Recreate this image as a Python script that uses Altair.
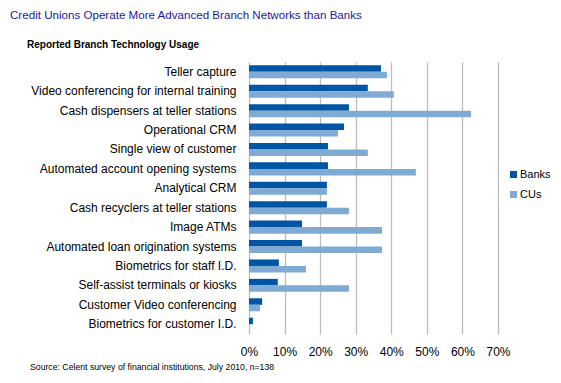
import altair as alt
import pandas as pd

categories = [
    "Teller capture",
    "Video conferencing for internal training",
    "Cash dispensers at teller stations",
    "Operational CRM",
    "Single view of customer",
    "Automated account opening systems",
    "Analytical CRM",
    "Cash recyclers at teller stations",
    "Image ATMs",
    "Automated loan origination systems",
    "Biometrics for staff I.D.",
    "Self-assist terminals or kiosks",
    "Customer Video conferencing",
    "Biometrics for customer I.D.",
]
banks = [0.371, 0.334, 0.281, 0.267, 0.222, 0.222, 0.219, 0.219, 0.149, 0.149, 0.084, 0.081, 0.037, 0.011]
cus = [0.388, 0.407, 0.624, 0.250, 0.334, 0.469, 0.219, 0.281, 0.374, 0.374, 0.160, 0.281, 0.031, 0.0]
series = ["Banks", "CUs"]
series_colors = ["#0055A5", "#7FAAD4"]
x_ticks = [0.0, 0.1, 0.2, 0.3, 0.4, 0.5, 0.6, 0.7]

title_text = "Credit Unions Operate More Advanced Branch Networks than Banks"
subtitle_text = "Reported Branch Technology Usage"
source_text = "Source: Celent survey of financial institutions, July 2010, n=138"

rows = []
for c, b, u in zip(categories, banks, cus):
    rows.append({"category": c, "series": "Banks", "value": b})
    rows.append({"category": c, "series": "CUs", "value": u})
df = pd.DataFrame(rows)

FONT = "Liberation Sans"

bars = alt.Chart(df).mark_bar().encode(
    x=alt.X(
        "value:Q",
        scale=alt.Scale(domain=[0, 0.7], nice=False),
        axis=alt.Axis(
            format=".0%", values=x_ticks, title=None, grid=True,
            gridColor="#BDBDBD", gridWidth=1.3, domain=False, ticks=False,
            labelPadding=12, labelFontSize=12, labelColor="#000000", labelFont=FONT,
            labelOverlap=False, labelFlush=False,
        ),
    ),
    y=alt.Y(
        "category:N", sort=categories,
        scale=alt.Scale(paddingInner=0.33, paddingOuter=0.17),
        axis=alt.Axis(
            title=None, domain=False, ticks=False, labelPadding=13,
            labelFontSize=12, labelColor="#000000", labelFont=FONT,
            labelLimit=0,
        ),
    ),
    yOffset=alt.YOffset("series:N", sort=series),
    color=alt.Color(
        "series:N",
        scale=alt.Scale(domain=series, range=series_colors),
        legend=alt.Legend(
            title=None, orient="none", legendX=259, legendY=107, padding=0,
            symbolType="square", symbolSize=50, symbolStrokeWidth=0,
            labelFontSize=11, labelFont=FONT, labelColor="#000000",
            rowPadding=8, symbolOffset=0, labelOffset=1, labelLimit=0,
        ),
    ),
)

title = alt.Chart(pd.DataFrame([{"t": title_text}])).mark_text(
    align="left", baseline="alphabetic", fontSize=11.6, font=FONT, color="#1A1A9E"
).encode(text="t:N", x=alt.value(-239), y=alt.value(-43))

subtitle = alt.Chart(pd.DataFrame([{"t": subtitle_text}])).mark_text(
    align="left", baseline="alphabetic", fontSize=10, font=FONT, fontWeight="bold", color="#000000"
).encode(text="t:N", x=alt.value(-222), y=alt.value(-14))

source = alt.Chart(pd.DataFrame([{"t": source_text}])).mark_text(
    align="left", baseline="alphabetic", fontSize=8.7, font=FONT, color="#000000"
).encode(text="t:N", x=alt.value(-219), y=alt.value(308))

chart = alt.layer(bars, title, subtitle, source).properties(
    width=249, height=272,
    autosize=alt.AutoSizeParams(type="none"),
    padding={"left": 241, "top": 54, "right": 55, "bottom": 41},
).configure_view(stroke=None)

chart.save("out.html", embed_options={"renderer": "svg", "actions": False})
